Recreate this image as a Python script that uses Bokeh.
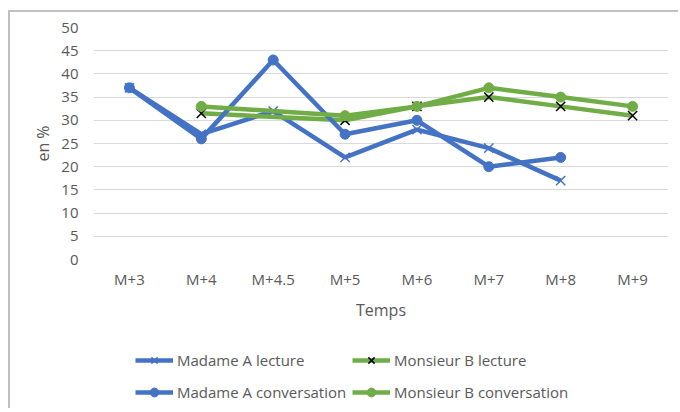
from bokeh.plotting import figure
from bokeh.models import Legend, LegendItem, FactorRange, Range1d
from bokeh.layouts import column
from bokeh.embed import file_html
from bokeh.resources import INLINE

periods = ["M+3", "M+4", "M+4.5", "M+5", "M+6", "M+7", "M+8", "M+9"]

madame_x = ["M+3", "M+4", "M+4.5", "M+5", "M+6", "M+7", "M+8"]
madame_lecture = [37, 27, 32, 22, 28, 24, 17]
madame_conversation = [37, 26, 43, 27, 30, 20, 22]

monsieur_x = ["M+4", "M+5", "M+6", "M+7", "M+8", "M+9"]
monsieur_lecture = [31.5, 30, 33, 35, 33, 31]
monsieur_conversation = [33, 31, 33, 37, 35, 33]

series_labels = ["Madame A lecture", "Monsieur B lecture",
                 "Madame A conversation", "Monsieur B conversation"]

BLUE = "#4472C4"
GREEN = "#70AD47"
TEXT = "#595959"
FONT = "Open Sans"
BORDER = "2px solid #c0c0c0"
LW = 4.5

x_range = FactorRange(*periods, range_padding=0)
p = figure(width=670, height=318, x_range=x_range,
           y_range=(0, 50), output_backend="svg", toolbar_location=None,
           min_border_left=83, min_border_right=12, min_border_top=15, min_border_bottom=71)
p.styles = {"border-top": BORDER, "border-left": BORDER}
p.outline_line_color = None
p.xgrid.grid_line_color = None
p.ygrid.grid_line_color = "#d9d9d9"
p.ygrid.grid_line_width = 1
p.yaxis.ticker = list(range(0, 51, 5))

for ax in (p.xaxis, p.yaxis):
    ax.axis_line_color = None
    ax.major_tick_line_color = None
    ax.minor_tick_line_color = None
    ax.major_tick_out = 0
    ax.major_tick_in = 0
    ax.minor_tick_out = 0
    ax.minor_tick_in = 0
    ax.major_label_text_color = TEXT
    ax.major_label_text_font = FONT
    ax.major_label_text_font_size = "15px"
    ax.axis_label_text_color = TEXT
    ax.axis_label_text_font = FONT
    ax.axis_label_text_font_size = "16px"
    ax.axis_label_text_font_style = "normal"
p.xaxis.major_label_standoff = 9
p.yaxis.major_label_standoff = 15
p.xaxis.axis_label = "Temps"
p.yaxis.axis_label = "en %"
p.xaxis.axis_label_standoff = 7
p.yaxis.axis_label_standoff = 4

series = [
    (madame_x, madame_lecture, BLUE, "x", BLUE),
    (monsieur_x, monsieur_lecture, GREEN, "x", "black"),
    (madame_x, madame_conversation, BLUE, "circle", BLUE),
    (monsieur_x, monsieur_conversation, GREEN, "circle", GREEN),
]


def draw(fig, xs, ys, lc, mk, mc, dot=10):
    a = fig.line(xs, ys, line_color=lc, line_width=LW)
    if mk == "x":
        b = fig.scatter(xs, ys, marker="x", size=13, line_color=mc, line_width=1.5)
    else:
        b = fig.scatter(xs, ys, marker="circle", size=dot, fill_color=mc, line_color=mc)
    return [a, b]


for s in series:
    draw(p, *s)

# legend strip below the chart: proxy renderers whose data lie outside its view
lf = figure(width=670, height=80, x_range=x_range, y_range=Range1d(100, 200),
            output_backend="svg", toolbar_location=None,
            x_axis_location=None, y_axis_location=None,
            min_border_left=0, min_border_right=0, min_border_top=0, min_border_bottom=0)
lf.styles = {"border-left": BORDER}
lf.outline_line_color = None
lf.grid.visible = False
proxies = [draw(lf, *s, dot=7) for s in series]


def mk_legend(idx, x):
    items = [LegendItem(label=series_labels[i], renderers=proxies[i]) for i in idx]
    return Legend(items=items, location=(x, 4), orientation="vertical",
                  padding=0, margin=0, spacing=7, glyph_width=38, glyph_height=22,
                  label_height=25, label_standoff=4, border_line_color=None,
                  background_fill_alpha=0, label_text_font=FONT, label_text_font_size="15px",
                  label_text_color=TEXT)


lf.add_layout(mk_legend([0, 2], 42), "center")
lf.add_layout(mk_legend([1, 3], 259), "center")

layout = column(p, lf, spacing=0)
layout.styles = {"margin-left": "8px", "margin-top": "10px"}

open("out.html", "w").write(file_html(layout, INLINE))
